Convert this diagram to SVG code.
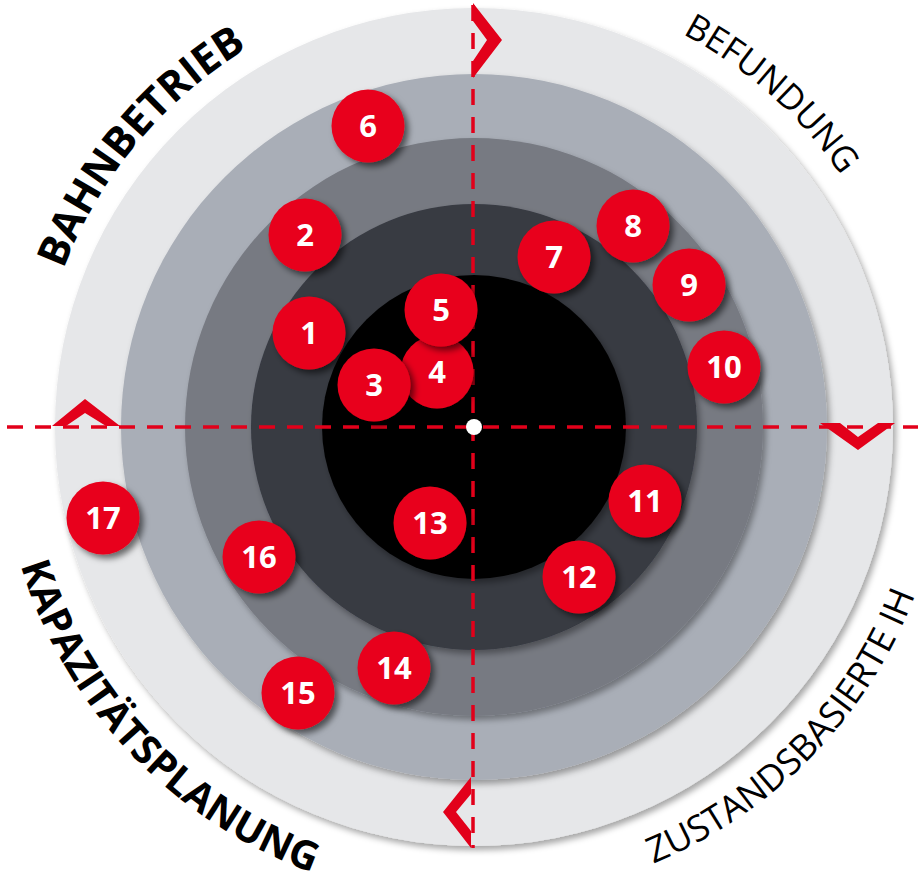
<svg xmlns="http://www.w3.org/2000/svg" width="923" height="873" viewBox="0 0 923 873">
<defs>
<filter id="ringShadow" x="-10%" y="-10%" width="125%" height="125%">
<feDropShadow dx="3" dy="4" stdDeviation="3" flood-color="#000" flood-opacity="0.35"/>
</filter>
<filter id="dotShadow" x="-30%" y="-30%" width="170%" height="170%">
<feDropShadow dx="4" dy="4" stdDeviation="3" flood-color="#000" flood-opacity="0.55"/>
</filter>
<path id="pBahn" d="M 60.6 578.5 A 444 444 0 0 1 551.1 -10.3"/>
<path id="pBef" d="M 334.6 4.4 A 445 445 0 0 1 909.7 517.6"/>
<path id="pKap" d="M 19.5 292.4 A 474 474 0 0 0 584.6 887.9"/>
<path id="pZus" d="M 358.0 884.5 A 472 472 0 0 0 928.3 298.9"/>
</defs>
<style>
.ring{filter:url(#ringShadow)}
.dot circle{fill:#e8001c;filter:url(#dotShadow)}
.dot text{fill:#fff;font-family:"Open Sans","Noto Sans",sans-serif;font-weight:700;font-size:31px;text-anchor:middle}
.axis{stroke:#e2001a;stroke-width:3.5;stroke-dasharray:16 12;fill:none}
.chev{fill:#e2001a}
.lblB{font-family:"Open Sans","Noto Sans",sans-serif;font-weight:700;font-size:41px;fill:#000}
.lblR{font-family:"Open Sans","Noto Sans",sans-serif;font-weight:400;font-size:35px;fill:#000}
</style>
<rect width="923" height="873" fill="#fff"/>
<g id="target">
<circle class="ring" cx="474" cy="427" r="419" fill="#e6e7e9"/>
<circle class="ring" cx="474" cy="427" r="353" fill="#a9aeb7"/>
<circle class="ring" cx="474" cy="427" r="289" fill="#777a82"/>
<circle class="ring" cx="474" cy="427" r="223" fill="#373a42"/>
<circle class="ring" cx="474" cy="427" r="152" fill="#000"/>
</g>
<g id="labels">
<text class="lblB" style="font-size:42px"><textPath href="#pBahn" startOffset="50%" text-anchor="middle">BAHNBETRIEB</textPath></text>
<text class="lblR"><textPath href="#pBef" startOffset="50%" text-anchor="middle">BEFUNDUNG</textPath></text>
<text class="lblB" style="font-size:40px"><textPath href="#pKap" startOffset="50%" text-anchor="middle">KAPAZITÄTSPLANUNG</textPath></text>
<text class="lblR" style="font-size:36px"><textPath href="#pZus" startOffset="50%" text-anchor="middle">ZUSTANDSBASIERTE IH</textPath></text>
</g>
<g id="connectors">
<line class="axis" x1="7" y1="427" x2="918" y2="427"/>
<line class="axis" x1="473" y1="5" x2="473" y2="848"/>
<polygon class="chev" points="473,3 502,40 473,78 473,61 487,40 473,21"/>
<polygon class="chev" points="52,426 85,399 120,426 106,426 85,413 66,426"/>
<polygon class="chev" points="820,423 858,450 895,423 878,423 858,437 840,423"/>
<polygon class="chev" points="471,777 443,812 471,848 471,831 456,812 471,794"/>
</g>
<g id="n4" class="dot"><circle cx="437" cy="372" r="36.5"/><text x="437" y="383">4</text></g>
<g id="n5" class="dot"><circle cx="441" cy="310" r="36.5"/><text x="441" y="321">5</text></g>
<g id="n3" class="dot"><circle cx="374" cy="385" r="36.5"/><text x="374" y="396">3</text></g>
<g id="n1" class="dot"><circle cx="309" cy="333" r="36.5"/><text x="309" y="344">1</text></g>
<g id="n2" class="dot"><circle cx="305" cy="235" r="36.5"/><text x="305" y="246">2</text></g>
<g id="n6" class="dot"><circle cx="368" cy="126" r="36.5"/><text x="368" y="137">6</text></g>
<g id="n7" class="dot"><circle cx="554" cy="257" r="36.5"/><text x="554" y="268">7</text></g>
<g id="n8" class="dot"><circle cx="633" cy="226" r="36.5"/><text x="633" y="237">8</text></g>
<g id="n9" class="dot"><circle cx="689" cy="285" r="36.5"/><text x="689" y="296">9</text></g>
<g id="n10" class="dot"><circle cx="724" cy="367" r="36.5"/><text x="724" y="378">10</text></g>
<g id="n11" class="dot"><circle cx="645" cy="501" r="36.5"/><text x="645" y="512">11</text></g>
<g id="n12" class="dot"><circle cx="579" cy="577" r="36.5"/><text x="579" y="588">12</text></g>
<g id="n13" class="dot"><circle cx="430" cy="523" r="36.5"/><text x="430" y="534">13</text></g>
<g id="n14" class="dot"><circle cx="394" cy="668" r="36.5"/><text x="394" y="679">14</text></g>
<g id="n15" class="dot"><circle cx="298" cy="693" r="36.5"/><text x="298" y="704">15</text></g>
<g id="n16" class="dot"><circle cx="259" cy="557" r="36.5"/><text x="259" y="568">16</text></g>
<g id="n17" class="dot"><circle cx="103" cy="518" r="36.5"/><text x="103" y="529">17</text></g>
<g id="center"><circle cx="474" cy="427" r="8" fill="#fff"/></g>
</svg>
